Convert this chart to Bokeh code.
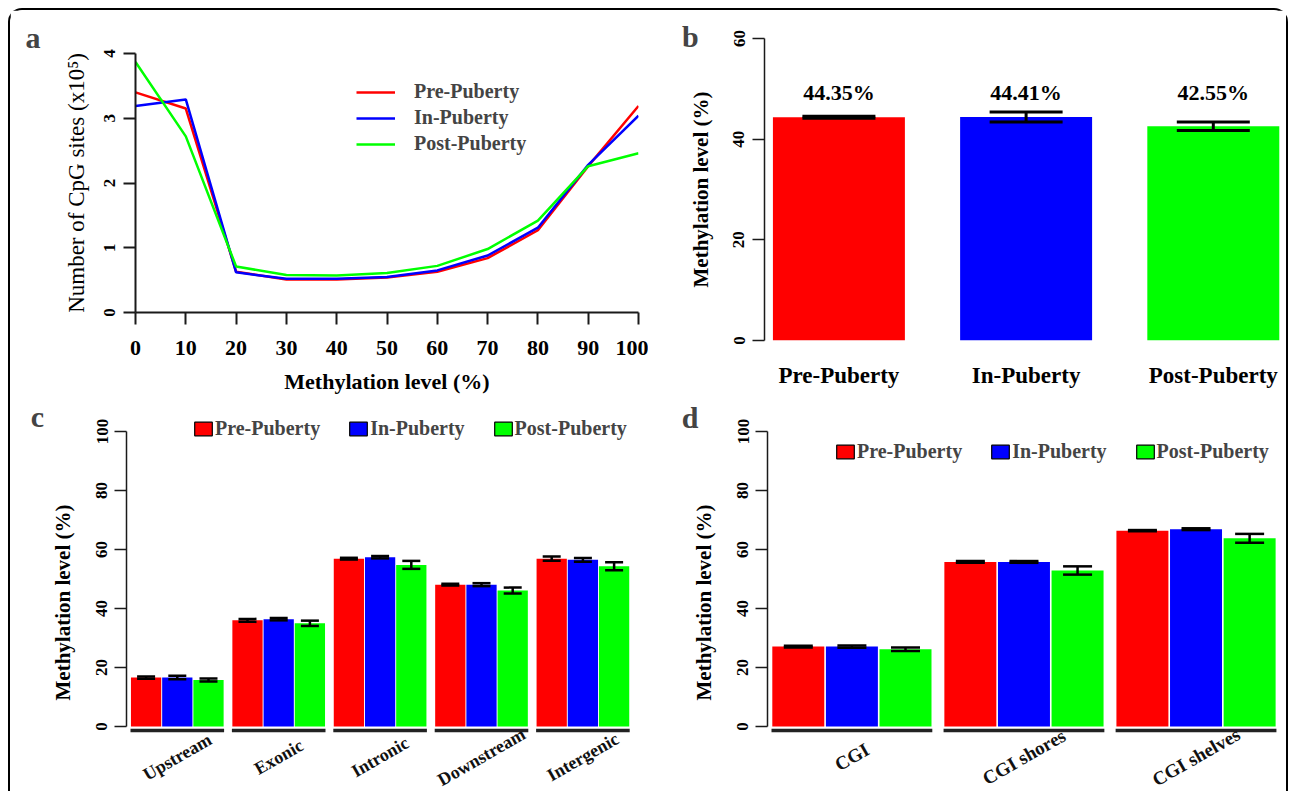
from bokeh.plotting import figure
from bokeh.models import (Range1d, FixedTicker, Legend, LegendItem, Label,
                          Whisker, TeeHead, ColumnDataSource)
from bokeh.layouts import row, column
from bokeh.embed import file_html
from bokeh.resources import INLINE
from bokeh.core.properties import value

# ---------------- data ----------------
groups = ["Pre-Puberty", "In-Puberty", "Post-Puberty"]
colors = ["#FF0000", "#0000FF", "#00FF00"]

# panel a: distribution of CpG sites (x10^5) by methylation level
meth_bins = [0, 10, 20, 30, 40, 50, 60, 70, 80, 90, 100]
cpg_pre = [3.40, 3.15, 0.63, 0.51, 0.51, 0.54, 0.63, 0.84, 1.27, 2.26, 3.19]
cpg_in = [3.19, 3.29, 0.62, 0.52, 0.52, 0.55, 0.65, 0.88, 1.31, 2.28, 3.04]
cpg_post = [3.87, 2.72, 0.71, 0.58, 0.57, 0.61, 0.72, 0.98, 1.42, 2.26, 2.46]
a_xticks = [0, 10, 20, 30, 40, 50, 60, 70, 80, 90, 100]
a_yticks = [0, 1, 2, 3, 4]

# panel b: overall methylation level
overall_levels = [44.35, 44.41, 42.55]
overall_err = [0.2, 1.0, 0.85]
overall_labels = ["44.35%", "44.41%", "42.55%"]
b_yticks = [0, 20, 40, 60]

# panel c: gene regions
region_cats = ["Upstream", "Exonic", "Intronic", "Downstream", "Intergenic"]
region_pre = [16.6, 36.0, 56.9, 48.1, 56.9]
region_in = [16.6, 36.4, 57.4, 48.1, 56.5]
region_post = [15.8, 35.0, 54.8, 46.1, 54.3]
region_err_pre = [0.4, 0.5, 0.3, 0.3, 0.7]
region_err_in = [0.6, 0.4, 0.4, 0.5, 0.6]
region_err_post = [0.5, 0.9, 1.35, 1.0, 1.35]

# panel d: CGI regions
cgi_cats = ["CGI", "CGI shores", "CGI shelves"]
cgi_pre = [27.1, 55.8, 66.4]
cgi_in = [27.1, 55.8, 66.9]
cgi_post = [26.2, 52.9, 63.8]
cgi_err_pre = [0.3, 0.3, 0.2]
cgi_err_in = [0.4, 0.3, 0.3]
cgi_err_post = [0.6, 1.4, 1.5]
cd_yticks = [0, 20, 40, 60, 80, 100]

FONT = "Liberation Serif"
AXC = "#1a1a1a"


def base_fig(width, height, xr, yr, mbl, mbr, mbt, mbb, x_axis=True):
    p = figure(width=width, height=height, x_range=xr, y_range=yr,
               output_backend="svg", toolbar_location=None,
               x_axis_location="below" if x_axis else None)
    p.frame_align = False
    p.min_border_left = mbl
    p.min_border_right = mbr
    p.min_border_top = mbt
    p.min_border_bottom = mbb
    p.outline_line_color = None
    p.grid.visible = False
    p.background_fill_color = "white"
    p.border_fill_color = "white"
    return p


def style_axis(ax, tick_size="17px", label_size="21px", label_bold=True,
               line_w=1.5, orient="vertical", standoff=4, label_standoff=16):
    ax.axis_line_width = line_w
    ax.axis_line_color = AXC
    ax.major_tick_line_width = line_w
    ax.major_tick_line_color = AXC
    ax.major_tick_out = 12
    ax.major_tick_in = 0
    ax.minor_tick_line_color = None
    ax.major_label_orientation = orient
    ax.major_label_text_font = FONT
    ax.major_label_text_font_style = "bold"
    ax.major_label_text_font_size = tick_size
    ax.major_label_text_color = "black"
    ax.major_label_standoff = standoff
    ax.axis_label_text_font = FONT
    ax.axis_label_text_font_style = "bold" if label_bold else "normal"
    ax.axis_label_text_font_size = label_size
    ax.axis_label_text_color = "black"
    ax.axis_label_standoff = label_standoff


def panel_letter(p, letter, x, y):
    # placed in the left side panel so that it is not clipped to the frame
    p.add_layout(Label(x=x, y=y, text=letter, text_font=FONT,
                       text_font_style="bold", text_font_size="30px",
                       text_align="center", text_baseline="alphabetic"), "left")


# ---------------- panel a ----------------
pa = base_fig(638, 390, Range1d(0, 100), Range1d(0, 4), 125, 10, 43, 88)
style_axis(pa.xaxis[0], tick_size="22px", label_size="22px", line_w=2,
           orient="horizontal", standoff=16, label_standoff=11)
style_axis(pa.yaxis[0], tick_size="17px", label_size="23px", label_bold=False,
           line_w=2, orient="vertical", standoff=9, label_standoff=12)
pa.xaxis[0].ticker = FixedTicker(ticks=a_xticks)
pa.yaxis[0].ticker = FixedTicker(ticks=a_yticks)
pa.xaxis[0].axis_label = "Methylation level (%)"
pa.yaxis[0].axis_label = "Number of CpG sites (x10\u2075)"
a_items = []
for name, col, ys in zip(groups, colors, [cpg_pre, cpg_in, cpg_post]):
    r = pa.line(meth_bins, ys, line_color=col, line_width=2.5)
    a_items.append(LegendItem(label=name, renderers=[r]))
leg_a = Legend(items=a_items, location=(221, 157), glyph_width=39, glyph_height=22,
               label_height=22, label_standoff=19, spacing=3, padding=0, margin=0,
               label_text_font=FONT, label_text_font_style="bold",
               label_text_font_size="20px", border_line_color=None,
               background_fill_alpha=0)
pa.add_layout(leg_a)
panel_letter(pa, "a", -20.4, 4.25)

# ---------------- panel b ----------------
b_x = [1, 2, 3]
pb = base_fig(638, 390, Range1d(0.6025, 3.391), Range1d(0, 60), 116, 0, 28, 60)
style_axis(pb.yaxis[0], tick_size="17px", label_size="21px", orient="vertical",
           standoff=8, label_standoff=18)
pb.yaxis[0].ticker = FixedTicker(ticks=b_yticks)
pb.yaxis[0].axis_label = "Methylation level (%)"
xb = pb.xaxis[0]
style_axis(xb, tick_size="23px", orient="horizontal", standoff=22)
xb.ticker = FixedTicker(ticks=b_x)
xb.major_label_overrides = {i: g for i, g in zip(b_x, groups)}
xb.axis_line_color = None
xb.major_tick_line_color = None
xb.major_tick_out = 0
pb.vbar(x=b_x, top=overall_levels, width=0.705, fill_color=colors, line_color=None)
src_b = ColumnDataSource(dict(
    base=b_x,
    upper=[v + e for v, e in zip(overall_levels, overall_err)],
    lower=[v - e for v, e in zip(overall_levels, overall_err)]))
wb = Whisker(source=src_b, base="base", upper="upper", lower="lower",
             line_width=3, line_color="black",
             upper_head=TeeHead(size=73, line_width=3, line_color="black"),
             lower_head=TeeHead(size=73, line_width=3, line_color="black"))
wb.level = "annotation"
pb.add_layout(wb)
pb.text(x=b_x, y=[49.3] * 3, text=overall_labels, text_align="center",
        text_baseline="middle", text_font=value(FONT), text_font_style="bold",
        text_font_size="22px", text_color="black")
panel_letter(pb, "b", 0.207, 60.4)

Y_LOW = -22.0
Y_HIGH = 106.1


# ---------------- grouped panels c / d ----------------
def grouped_panel(cats, series, errs, width, mbl, mbr, xr, pitch, cap,
                  lab_size, leg_loc, leg_spacing, letter_xy, letter):
    p = base_fig(width, 391, xr, Range1d(Y_LOW, Y_HIGH), mbl, mbr, 13, 0, x_axis=False)
    ax = p.yaxis[0]
    style_axis(ax, tick_size="17px", label_size="21px", orient="vertical",
               standoff=7, label_standoff=19)
    ax.ticker = FixedTicker(ticks=cd_yticks)
    ax.bounds = (0, 100)
    ax.axis_label = "Methylation level (%)"
    n = len(cats)
    items = []
    for k, (name, col, vals, err) in enumerate(zip(groups, colors, series, errs)):
        xs = [g * pitch + k + 0.5 for g in range(n)]
        p.vbar(x=xs, top=vals, width=0.97, fill_color=col, line_color=None)
        src = ColumnDataSource(dict(base=xs,
                                    upper=[v + e for v, e in zip(vals, err)],
                                    lower=[v - e for v, e in zip(vals, err)]))
        w = Whisker(source=src, base="base", upper="upper", lower="lower",
                    line_width=2.5, line_color="black",
                    upper_head=TeeHead(size=cap, line_width=2.5, line_color="black"),
                    lower_head=TeeHead(size=cap, line_width=2.5, line_color="black"))
        w.level = "annotation"
        p.add_layout(w)
        # legend key: a swatch with a black border (not drawn in the plot area)
        proxy = p.vbar(x=[float("nan")], top=[float("nan")], width=1,
                       fill_color=col, line_color="black", line_width=1.2)
        items.append(LegendItem(label=name, renderers=[proxy]))
    lefts = [g * pitch for g in range(n)]
    rights = [g * pitch + 3 for g in range(n)]
    centers = [g * pitch + 1.5 for g in range(n)]
    p.segment(x0=lefts, x1=rights, y0=[-1.3] * n, y1=[-1.3] * n,
              line_color="#222222", line_width=3.5)
    p.text(x=centers, y=[-10.3] * n, text=cats, angle=0.52, text_align="center",
           text_baseline="middle", text_font=value(FONT), text_font_style="bold",
           text_font_size=lab_size, text_color="#111111")
    leg = Legend(items=items, location=leg_loc, orientation="horizontal",
                 glyph_width=22, glyph_height=17, label_standoff=1,
                 spacing=leg_spacing, padding=0, margin=0, label_text_font=FONT,
                 label_text_font_style="bold", label_text_font_size="20px",
                 border_line_color=None, background_fill_alpha=0)
    p.add_layout(leg)
    panel_letter(p, letter, *letter_xy)
    return p


pc = grouped_panel(region_cats, [region_pre, region_in, region_post],
                   [region_err_pre, region_err_in, region_err_post],
                   638, 116, 8, Range1d(-0.128, 16.346), 3.25, 18, "18px",
                   (66, 351), 27, (-2.98, 105.1), "c")
pd_ = grouped_panel(cgi_cats, [cgi_pre, cgi_in, cgi_post],
                    [cgi_err_pre, cgi_err_in, cgi_err_post],
                    638, 119, 0, Range1d(-0.0746, 9.608), 3.21, 29, "19px",
                    (67, 328), 27, (-1.52, 104.7), "d")

layout = column(row(pa, pb), row(pc, pd_), margin=(8, 0, 0, 8),
                styles={"border": "2px solid black", "border-bottom": "none",
                        "border-radius": "14px 14px 0 0"})

open("out.html", "w").write(file_html(layout, INLINE))
